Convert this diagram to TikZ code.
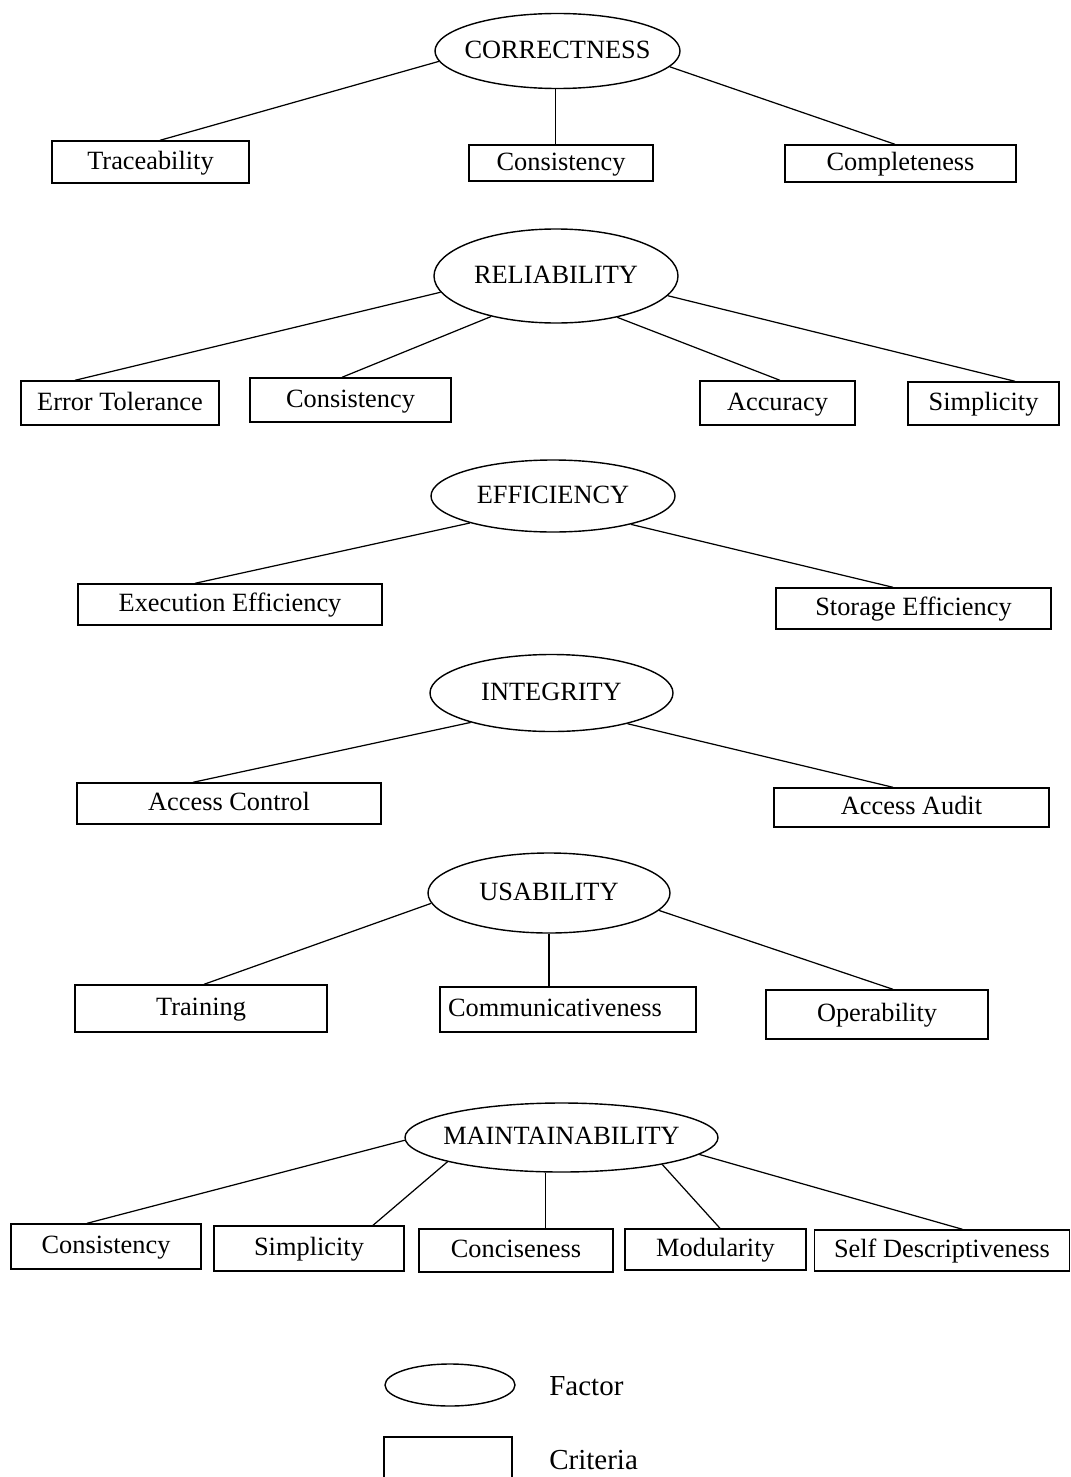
\documentclass[tikz,border=0pt]{standalone}
\usepackage{fontspec}
\setmainfont{Liberation Serif}
\usetikzlibrary{shapes.geometric}
\begin{document}
\begin{tikzpicture}[x=0.02cm,y=-0.02cm,
  fac/.style n args={2}{ellipse, draw, line width=0.8pt, inner sep=-1.5cm,
    minimum width=#1*0.02cm, minimum height=#2*0.02cm,
    text height=10pt, text depth=2pt, font=\fontsize{15}{18}\selectfont},
  crit/.style n args={2}{rectangle, draw, line width=0.8pt, inner sep=0pt,
    minimum width=#1*0.02cm, minimum height=#2*0.02cm,
    text height=10pt, text depth=2pt, font=\fontsize{15}{18}\selectfont},
  legtext/.style={anchor=west, inner sep=0pt, font=\fontsize{16.5}{20}\selectfont},
  link/.style={line width=0.7pt}]
\useasboundingbox (0,0) rectangle (1071,1477);
\clip (0,0) rectangle (1071,1477);

% CORRECTNESS
\node[fac={245}{75}] (fc) at (557.5,51) {CORRECTNESS};
\node[crit={197}{42}] (c1) at (150.5,162) {Traceability};
\node[crit={184}{36}] (c2) at (561,163) {Consistency};
\node[crit={231}{37}] (c3) at (900.5,163.5) {Completeness};
\draw[link] (fc.185) -- ([xshift=0.19cm]c1.north);
\draw[link] ([xshift=-0.04cm]fc.south) -- ([xshift=-0.04cm]fc.south |- c2.north);
\draw[link] (fc.352) -- ([xshift=-0.11cm]c3.north);

% RELIABILITY
\node[fac={244}{94}] (fr) at (556,276) {RELIABILITY};
\node[crit={198}{44}] (r1) at (120,403) {Error Tolerance};
\node[crit={201}{44}] (r2) at (350.5,400) {Consistency};
\node[crit={155}{44}] (r3) at (777.5,403) {Accuracy};
\node[crit={151}{43}] (r4) at (983.5,403.5) {Simplicity};
\draw[link] (fr.188) -- ([xshift=-0.9cm]r1.north);
\draw[link] (fr.212) -- ([xshift=-0.17cm]r2.north);
\draw[link] (fr.326) -- ([xshift=0.05cm]r3.north);
\draw[link] (fr.350) -- ([xshift=0.63cm]r4.north);

% EFFICIENCY
\node[fac={244}{72}] (fe) at (553,496) {EFFICIENCY};
\node[crit={304}{41}] (e1) at (230,604.5) {Execution Efficiency};
\node[crit={275}{41}] (e2) at (913.5,608.5) {Storage Efficiency};
\draw[link] (fe.198) -- ([xshift=-0.7cm]e1.north);
\draw[link] (fe.340) -- ([xshift=-0.41cm]e2.north);

% INTEGRITY
\node[fac={243}{77}] (fi) at (551.5,693) {INTEGRITY};
\node[crit={304}{41}] (i1) at (229,803.5) {Access Control};
\node[crit={275}{39}] (i2) at (911.5,807.5) {Access Audit};
\draw[link] (fi.200) -- ([xshift=-0.72cm]i1.north);
\draw[link] (fi.338) -- ([xshift=-0.37cm]i2.north);

% USABILITY
\node[fac={242}{80}] (fu) at (549,893) {USABILITY};
\node[crit={252}{47}] (u1) at (201,1008.5) {Training};
\node[crit={256}{45}] (u2) at (568,1009.5) {Communicativeness\kern0.52cm\hbox{}};
\node[crit={222}{49}] (u3) at (877,1014.5) {Operability};
\draw[link] (fu.185) -- ([xshift=0.06cm]u1.north);
\draw[link] (fu.south) -- (fu.south |- u2.north);
\draw[link] (fu.351) -- ([xshift=0.32cm]u3.north);

% MAINTAINABILITY
\node[fac={313}{69}] (fm) at (561.5,1137.5) {MAINTAINABILITY};
\node[crit={190}{45}] (m1) at (106,1246.5) {Consistency};
\node[crit={190}{45}] (m2) at (309,1248.5) {Simplicity};
\node[crit={194}{43}] (m3) at (516,1250.5) {Conciseness};
\node[crit={181}{41}] (m4) at (715.5,1249.5) {Modularity};
\node[crit={255}{41}] (m5) at (942,1250.5) {Self Descriptiveness};
\draw[link] (fm.181) -- ([xshift=-0.38cm]m1.north);
\draw[link] (fm.192) -- ([xshift=1.28cm]m2.north);
\draw[link] (fm.245) -- (fm.245 |- m3.north);
\draw[link] (fm.345) -- ([xshift=0.09cm]m4.north);
\draw[link] (fm.353) -- ([xshift=0.41cm]m5.north);

% Legend
\node[fac={130}{42}] (lf) at (450,1385) {};
\node[legtext] (lft) at (549,1386) {Factor};
\node[crit={128}{80}] (lc) at (448,1477) {};
\node[legtext] (lct) at (549,1460) {Criteria};
\end{tikzpicture}
\end{document}
